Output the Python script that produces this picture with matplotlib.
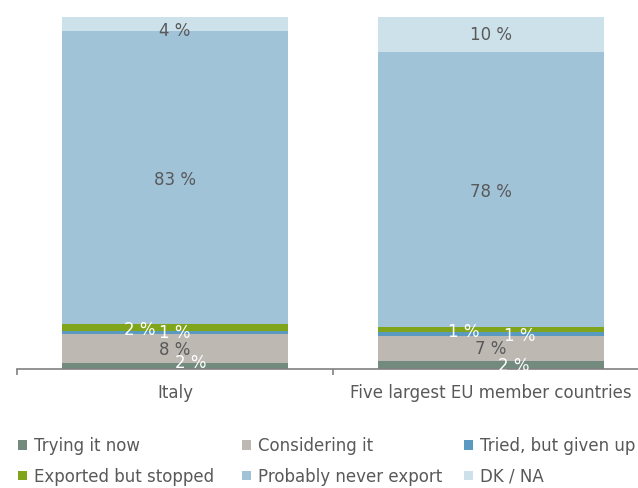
import matplotlib
matplotlib.use("Agg")
import matplotlib.pyplot as plt
from matplotlib.patches import Patch

plt.rcParams['font.family'] = ['DejaVu Sans']

categories = ["Italy", "Five largest EU member countries"]
series_names = ["Trying it now", "Considering it", "Tried, but given up",
                "Exported but stopped", "Probably never export", "DK / NA"]
# values (%) per series: [Italy, Five largest]
trying = [1.7, 2.3]
considering = [8.2, 7.2]
tried_given_up = [0.9, 1.1]
exported_stopped = [2.0, 1.4]
never_export = [83.2, 78.1]
dk_na = [4.0, 9.9]
series_values = [trying, considering, tried_given_up, exported_stopped, never_export, dk_na]

colors = ['#738a7f', '#beb8b3', '#5a9ac0', '#80a51b', '#a1c3d8', '#cde1ea']
label_colors = ['white', '#595959', 'white', 'white', '#595959', '#595959']
# label nudges (x in category units, y in percent units), per series, per category
label_dx = [[0.05, 0.073], [0, 0], [0, 0.09], [-0.11, -0.085], [0, 0], [0, 0]]
label_dy = [[0.85, -0.3], [-0.4, -0.2], [-0.1, -0.7], [-0.7, -0.8], [-0.6, -0.8], [-2.0, -0.2]]

W, H = 638, 488
fig = plt.figure(figsize=(W / 100, H / 100), dpi=100)
ax = fig.add_axes([17 / W, 1 - 369 / H, 632 / W, 352 / H])

x = list(range(len(categories)))
bottoms = [0.0] * len(categories)
for i, vals in enumerate(series_values):
    ax.bar(x, vals, width=0.715, bottom=bottoms, color=colors[i], linewidth=0, zorder=2)
    for j, v in enumerate(vals):
        ax.text(x[j] + label_dx[i][j], bottoms[j] + v / 2 + label_dy[i][j],
                f"{v:.0f} %", ha='center', va='center', fontsize=12,
                color=label_colors[i], zorder=3)
    bottoms = [b + v for b, v in zip(bottoms, vals)]

ax.set_xlim(-0.5, 1.5)
ax.set_ylim(0, 100)
ax.set_yticks([])
for s in ['left', 'right', 'top']:
    ax.spines[s].set_visible(False)
ax.spines['bottom'].set_color('#808080')
ax.spines['bottom'].set_linewidth(1.2)
ax.set_xticks(x)
ax.set_xticklabels(categories, fontsize=12, color='#595959')
ax.tick_params(axis='x', which='major', length=0, pad=11)
ax.set_xticks([-0.5, 0.5, 1.5], minor=True)
ax.tick_params(axis='x', which='minor', length=4.5, width=1.2, color='#808080', direction='out')

handles = [Patch(facecolor=c, edgecolor='none') for c in colors]
col_x = [18, 242, 464]
for c in range(3):
    idx = [c, c + 3]
    lg = fig.legend([handles[k] for k in idx], [series_names[k] for k in idx],
                    loc='upper left', bbox_to_anchor=(col_x[c] / W, 1 - 437 / H),
                    bbox_transform=fig.transFigure, frameon=False, ncol=1,
                    fontsize=12, borderpad=0, borderaxespad=0,
                    handlelength=0.55, handleheight=0.5, handletextpad=0.4,
                    labelspacing=0.75, labelcolor='#595959')

fig.savefig("out.png", dpi=100)
